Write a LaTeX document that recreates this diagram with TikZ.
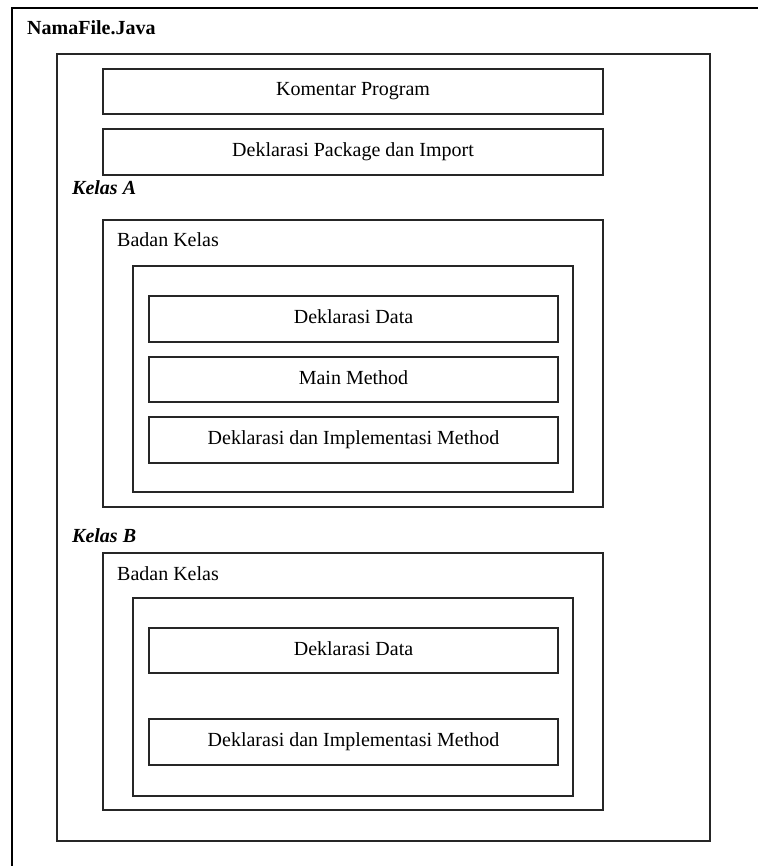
\documentclass[tikz,border=0pt]{standalone}
\usepackage{fontspec}
\setmainfont{Liberation Serif}
\usepackage{tikz}

\begin{document}
\begin{tikzpicture}[x=1pt,y=-1pt,
  garis/.style={draw=black!85,line width=1.3pt},
  kotak/.style={garis,inner sep=0pt,text height=13pt,text depth=4pt,
    font=\fontsize{20}{24}\selectfont},
  judul/.style={anchor=base west,inner sep=0pt,font=\fontsize{20}{24}\selectfont\bfseries\itshape}]
  \useasboundingbox (0,0) rectangle (758,866);
  % frame of the page (only left and top visible)
  \draw[line width=1.4pt] (12,866) -- (12,8) -- (758,8);
  \node[anchor=base west,inner sep=0pt,font=\fontsize{20}{24}\selectfont\bfseries] (nama) at (27,35) {NamaFile.Java};
  % file
  \draw[garis] (57,54) rectangle (710,841);
  \node[kotak,minimum width=500pt,minimum height=45pt] (komentar) at (353,91.5) {Komentar Program};
  \node[kotak,minimum width=500pt,minimum height=46pt] (paket) at (353,152) {Deklarasi Package dan Import};
  % kelas A
  \node[judul] (kelasA) at (72,195) {Kelas A};
  \draw[garis] (103,220) rectangle (603,507);
  \node[anchor=base west,inner sep=0pt,font=\fontsize{20}{24}\selectfont] (badanA) at (117,247) {Badan Kelas};
  \draw[garis] (133,266) rectangle (573,492);
  \node[kotak,minimum width=409pt,minimum height=46pt] (dataA) at (353.5,319) {Deklarasi Data};
  \node[kotak,minimum width=409pt,minimum height=45pt] (mainA) at (353.5,379.5) {Main Method};
  \node[kotak,minimum width=409pt,minimum height=46pt] (implA) at (353.5,440) {Deklarasi dan Implementasi Method};
  % kelas B
  \node[judul] (kelasB) at (72,542) {Kelas B};
  \draw[garis] (103,553) rectangle (603,810);
  \node[anchor=base west,inner sep=0pt,font=\fontsize{20}{24}\selectfont] (badanB) at (117,580) {Badan Kelas};
  \draw[garis] (133,598) rectangle (573,796);
  \node[kotak,minimum width=409pt,minimum height=45pt] (dataB) at (353.5,650.5) {Deklarasi Data};
  \node[kotak,minimum width=409pt,minimum height=46pt] (implB) at (353.5,742) {Deklarasi dan Implementasi Method};
\end{tikzpicture}
\end{document}
